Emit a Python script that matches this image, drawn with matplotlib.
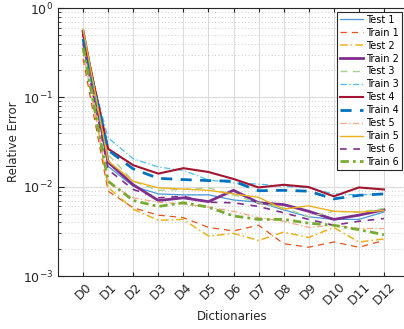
import matplotlib
matplotlib.use("Agg")
import matplotlib.pyplot as plt
from matplotlib.ticker import LogLocator, NullFormatter

categories = ["D0", "D1", "D2", "D3", "D4", "D5", "D6", "D7", "D8", "D9", "D10", "D11", "D12"]

test1  = [0.42, 0.0169, 0.0101, 0.0083, 0.0081, 0.0081, 0.0071, 0.0067, 0.0055, 0.0046, 0.0043, 0.0043, 0.0052]
train1 = [0.27, 0.0089, 0.0058, 0.0048, 0.0045, 0.0035, 0.0032, 0.0037, 0.0023, 0.0021, 0.0024, 0.0021, 0.0025]
test2  = [0.45, 0.0098, 0.0056, 0.0042, 0.0043, 0.0028, 0.0030, 0.0025, 0.0031, 0.0027, 0.0035, 0.0024, 0.0026]
train2 = [0.55, 0.0188, 0.0105, 0.0070, 0.0075, 0.0068, 0.0091, 0.0066, 0.0063, 0.0053, 0.0043, 0.0048, 0.0055]
test3  = [0.38, 0.0229, 0.0115, 0.0091, 0.0093, 0.0097, 0.0081, 0.0066, 0.0058, 0.0046, 0.0053, 0.0052, 0.0057]
train3 = [0.40, 0.0352, 0.0205, 0.0166, 0.0152, 0.0119, 0.0110, 0.0107, 0.0101, 0.0097, 0.0083, 0.0081, 0.0083]
test4  = [0.50, 0.0265, 0.0174, 0.0140, 0.0161, 0.0146, 0.0122, 0.0098, 0.0105, 0.0099, 0.0078, 0.0098, 0.0093]
train4 = [0.45, 0.0256, 0.0158, 0.0124, 0.0120, 0.0117, 0.0115, 0.0090, 0.0091, 0.0089, 0.0073, 0.0080, 0.0083]
test5  = [0.33, 0.0110, 0.0075, 0.0067, 0.0064, 0.0059, 0.0053, 0.0045, 0.0041, 0.0035, 0.0037, 0.0034, 0.0034]
train5 = [0.58, 0.0193, 0.0115, 0.0097, 0.0094, 0.0091, 0.0083, 0.0076, 0.0056, 0.0061, 0.0053, 0.0052, 0.0054]
test6  = [0.40, 0.0155, 0.0093, 0.0075, 0.0078, 0.0067, 0.0066, 0.0060, 0.0051, 0.0043, 0.0037, 0.0041, 0.0044]
train6 = [0.36, 0.0115, 0.0070, 0.0060, 0.0066, 0.0059, 0.0047, 0.0043, 0.0043, 0.0039, 0.0037, 0.0033, 0.0029]

labels = ["Test 1", "Train 1", "Test 2", "Train 2", "Test 3", "Train 3",
          "Test 4", "Train 4", "Test 5", "Train 5", "Test 6", "Train 6"]
series = [test1, train1, test2, train2, test3, train3, test4, train4, test5, train5, test6, train6]

styles = [
    dict(color="#4A97D8", ls="-", lw=0.9),
    dict(color="#E8501A", ls=(0, (5, 4)), lw=0.9),
    dict(color="#EDB120", ls=(0, (5, 2, 1, 2)), lw=1.1),
    dict(color="#7E2F8E", ls="-", lw=2.0),
    dict(color="#A9D18E", ls=(0, (5, 4)), lw=1.0),
    dict(color="#4DBEEE", ls=(0, (5, 2, 1, 2)), lw=0.9),
    dict(color="#A2142F", ls="-", lw=1.5),
    dict(color="#0072BD", ls=(0, (4, 3)), lw=2.0),
    dict(color="#F4A582", ls=(0, (5, 2, 1, 2)), lw=0.9),
    dict(color="#EDB120", ls="-", lw=1.0),
    dict(color="#7E2F8E", ls=(0, (4, 4)), lw=1.2),
    dict(color="#77AC30", ls=(0, (3, 1.5, 1, 1.5)), lw=2.0),
]

plt.rcParams['font.family'] = ['DejaVu Sans']
fig = plt.figure(figsize=(4.04, 3.29), dpi=100)
ax = fig.add_axes([58/404, 1-276/329, (406-58)/404, (276-8)/329])

x = list(range(len(categories)))
for vals, lab, st in zip(series, labels, styles):
    ax.plot(x, vals, label=lab, **st)

ax.set_yscale("log")
ax.set_ylim(1e-3, 1)
ax.set_xlim(-1, 12.88)
ax.set_xticks(x)
ax.set_xticklabels(categories, rotation=45, fontsize=8.5, color="#262626")
ax.yaxis.set_major_locator(LogLocator(base=10, numticks=5))
ax.yaxis.set_minor_locator(LogLocator(base=10, subs=range(2, 10), numticks=20))
ax.yaxis.set_minor_formatter(NullFormatter())
ax.tick_params(axis="both", which="both", direction="in", colors="#262626", labelsize=9)
ax.tick_params(axis="y", which="major", length=4)
ax.tick_params(axis="y", which="minor", length=2)
ax.tick_params(axis="x", length=3, pad=3)
ax.tick_params(top=True, which="major")
ax.grid(True, which="major", color="#dcdcdc", lw=0.8)
ax.grid(True, which="minor", axis="y", color="#bdbdbd", lw=0.6, ls=(0, (1, 3)))
ax.set_axisbelow(True)
for s in ax.spines.values():
    s.set_color("#262626")
    s.set_linewidth(0.8)

ax.set_ylabel("Relative Error", fontsize=8.5, color="#262626", labelpad=2)
ax.set_xlabel("Dictionaries", fontsize=8.5, color="#262626", labelpad=2)

leg = ax.legend(loc="upper right",
                prop={"size": 7}, labelspacing=0.3, handlelength=2.4, handletextpad=0.3,
                borderpad=0.3, borderaxespad=0.4, fancybox=False, framealpha=1,
                edgecolor="#262626")
leg.get_frame().set_linewidth(0.8)

fig.savefig("out.png", dpi=100)
